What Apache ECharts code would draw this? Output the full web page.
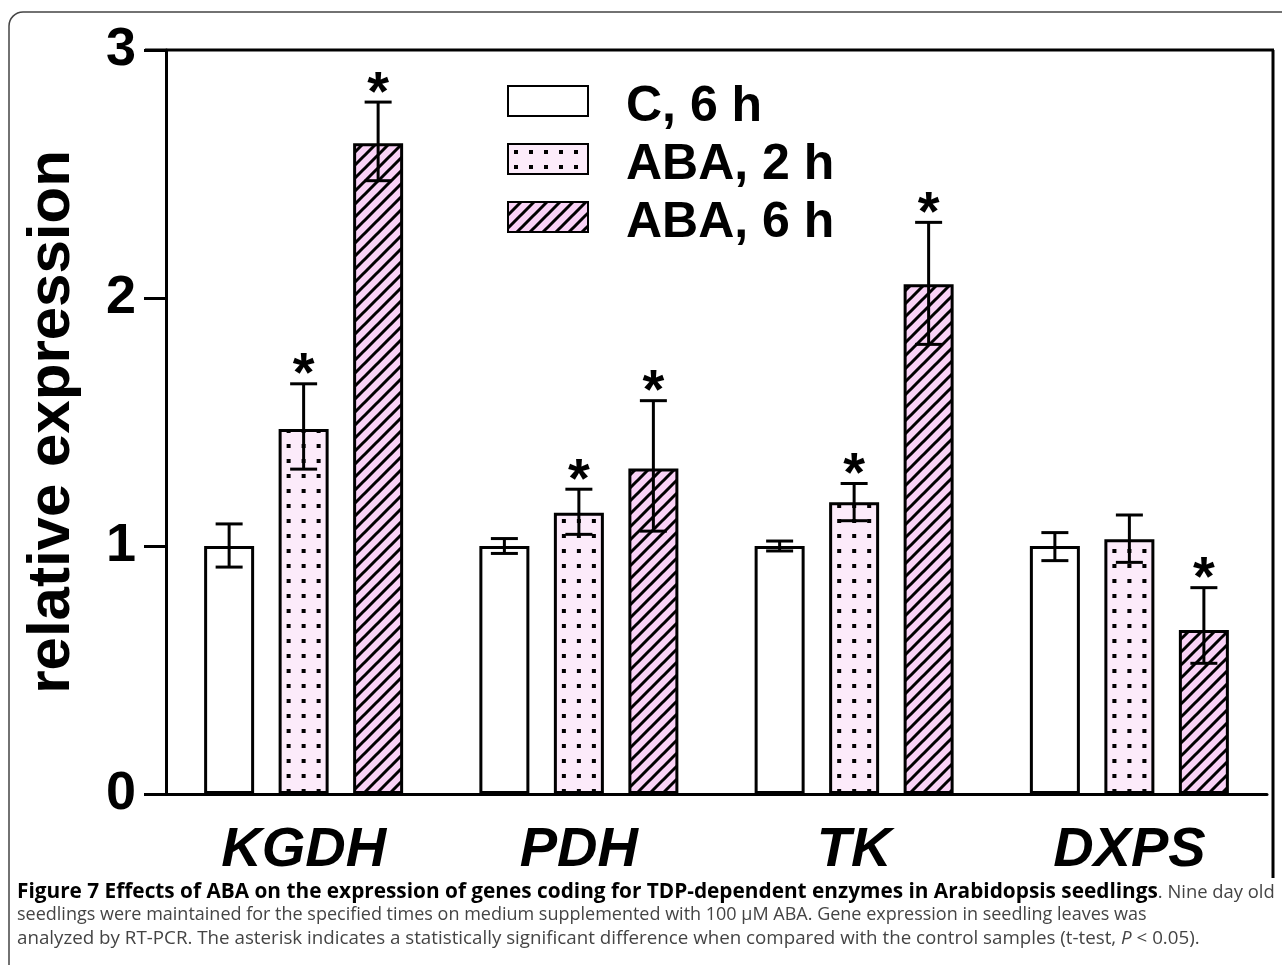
<!DOCTYPE html>
<html><head><meta charset="utf-8">
<script src="https://cdn.jsdelivr.net/npm/echarts@6/dist/echarts.min.js"></script>
<style>html,body{margin:0;padding:0;background:#fff}#c{width:1282px;height:965px}</style>
</head><body><div id="c"></div>
<script>
// ---- data ----
const categories = ['KGDH', 'PDH', 'TK', 'DXPS'];
const seriesNames = ['C, 6 h', 'ABA, 2 h', 'ABA, 6 h'];
const meanC    = [1.00, 1.00, 1.00, 1.00];
const meanABA2 = [1.472, 1.134, 1.176, 1.027];
const meanABA6 = [2.624, 1.313, 2.055, 0.661];
const upperC    = [1.089, 1.030, 1.020, 1.054];
const lowerC    = [0.915, 0.970, 0.980, 0.941];
const upperABA2 = [1.654, 1.229, 1.252, 1.125];
const lowerABA2 = [1.310, 1.047, 1.102, 0.934];
const upperABA6 = [2.790, 1.586, 2.305, 0.832];
const lowerABA6 = [2.473, 1.060, 1.813, 0.527];
const sigC    = [0, 0, 0, 0];
const sigABA2 = [1, 1, 1, 0];
const sigABA6 = [1, 1, 1, 1];
const yTicks = [0, 1, 2, 3];
const captionBold = 'Figure 7 Effects of ABA on the expression of genes coding for TDP-dependent enzymes in Arabidopsis seedlings';
const captionLine1Rest = '. Nine day old';
const captionLine2 = 'seedlings were maintained for the specified times on medium supplemented with 100 \u00b5M ABA. Gene expression in seedling leaves was';
const captionLine3a = 'analyzed by RT-PCR. The asterisk indicates a statistically significant difference when compared with the control samples (t-test, ';
const captionLine3P = 'P';
const captionLine3b = ' < 0.05).';

// ---- patterns ----
function hatchPattern() {
  const c = document.createElement('canvas'); c.width = 13; c.height = 13;
  const g = c.getContext('2d');
  g.fillStyle = '#f9d2f6'; g.fillRect(0, 0, 13, 13);
  g.strokeStyle = '#000'; g.lineWidth = 3; g.lineCap = 'butt';
  g.beginPath();
  g.moveTo(-2, 2); g.lineTo(2, -2);
  g.moveTo(-2, 15); g.lineTo(15, -2);
  g.moveTo(11, 15); g.lineTo(15, 11);
  g.stroke();
  return { image: c, repeat: 'repeat' };
}
const dotCanvas = (function () {
  const c = document.createElement('canvas'); c.width = 15; c.height = 15;
  const g = c.getContext('2d');
  g.fillStyle = '#fcebfa'; g.fillRect(0, 0, 15, 15);
  g.fillStyle = '#000'; g.fillRect(6, 6, 4, 4);
  return c;
})();
function dotPattern(ox, oy) { return { image: dotCanvas, repeat: 'repeat', x: ox || 0, y: oy || 0 }; }

const FONT = '"Liberation Sans", Arial, sans-serif';
const CAP = '"Open Sans", sans-serif';
const barW = 50, step = 74.5;

function errRenderer(offset) {
  return function (params, api) {
    const i = api.value(0);
    const lo = api.coord([i, api.value(1)]);
    const hi = api.coord([i, api.value(2)]);
    const x = lo[0] + offset;
    const hw = 13.5;
    const st = { stroke: '#000', lineWidth: 3 };
    const ch = [
      { type: 'line', shape: { x1: x, y1: lo[1], x2: x, y2: hi[1] }, style: st },
      { type: 'line', shape: { x1: x - hw, y1: hi[1], x2: x + hw, y2: hi[1] }, style: st },
      { type: 'line', shape: { x1: x - hw, y1: lo[1], x2: x + hw, y2: lo[1] }, style: st }
    ];
    if (api.value(3)) {
      ch.push({ type: 'text', style: { text: '*', x: x, y: hi[1] - 8, font: 'bold 56px ' + FONT, align: 'center', verticalAlign: 'middle', fill: '#000' } });
    }
    return { type: 'group', children: ch };
  };
}
function errData(lo, hi, sig) { return categories.map((c, i) => [i, lo[i], hi[i], sig[i]]); }

const chart = echarts.init(document.getElementById('c'), null, { renderer: 'canvas' });
const borderStyle = { borderColor: '#000', borderWidth: 3 };
const gap = ((step - barW) / barW * 100).toFixed(1) + '%';
chart.setOption({
  animation: false,
  backgroundColor: '#fff',
  textStyle: { fontFamily: FONT },
  grid: { left: 166, top: 50, right: 15, bottom: 171, containLabel: false },
  legend: {
    orient: 'vertical', left: 507, top: 82, padding: 0,
    itemWidth: 80, itemHeight: 30, itemGap: 8,
    icon: 'rect',
    data: seriesNames,
    formatter: n => '{t|' + n + '}',
    textStyle: { color: '#000', padding: [0, 0, 0, 33],
      rich: { t: { fontSize: 50, fontWeight: 'bold', color: '#000', fontFamily: FONT, padding: [12, 0, 0, 0] } } }
  },
  xAxis: {
    type: 'category', data: categories,
    axisLine: { lineStyle: { color: '#000', width: 3 } },
    axisTick: { alignWithLabel: true, length: 22, lineStyle: { color: '#000', width: 3 } },
    axisLabel: { fontSize: 56, fontWeight: 'bold', fontStyle: 'italic', color: '#000', margin: 29, fontFamily: FONT }
  },
  yAxis: {
    type: 'value', min: 0, max: 3, interval: 1,
    name: 'relative expression', nameLocation: 'middle', nameGap: 84, nameRotate: 90,
    nameTextStyle: { fontSize: 60, fontWeight: 'bold', color: '#000', fontFamily: FONT },
    splitLine: { show: false },
    axisLine: { show: true, lineStyle: { color: '#000', width: 3 } },
    axisTick: { show: true, length: 22, lineStyle: { color: '#000', width: 3 } },
    axisLabel: { fontSize: 54, fontWeight: 'bold', color: '#000', margin: 30, fontFamily: FONT,
      formatter: v => yTicks.indexOf(v) >= 0 ? String(v) : '' }
  },
  series: [
    { type: 'bar', name: seriesNames[0], data: meanC, barWidth: barW, barGap: gap,
      itemStyle: Object.assign({ color: '#ffffff' }, borderStyle) },
    { type: 'bar', name: seriesNames[1], data: meanABA2, barWidth: barW, barGap: gap,
      itemStyle: Object.assign({ color: dotPattern(0, 0) }, borderStyle) },
    { type: 'bar', name: seriesNames[2], data: meanABA6, barWidth: barW, barGap: gap,
      itemStyle: Object.assign({ color: hatchPattern() }, borderStyle) },
    { type: 'custom', renderItem: errRenderer(-step), data: errData(lowerC, upperC, sigC), encode: { x: 0, y: [1, 2] }, z: 5 },
    { type: 'custom', renderItem: errRenderer(0), data: errData(lowerABA2, upperABA2, sigABA2), encode: { x: 0, y: [1, 2] }, z: 5 },
    { type: 'custom', renderItem: errRenderer(step), data: errData(lowerABA6, upperABA6, sigABA6), encode: { x: 0, y: [1, 2] }, z: 5 }
  ],
  graphic: [
    { type: 'rect', shape: { x: 9, y: 12, width: 1290, height: 1000, r: 14 }, style: { fill: 'none', stroke: '#444', lineWidth: 1.5 }, silent: true },
    { type: 'line', shape: { x1: 145, y1: 50, x2: 1274, y2: 50 }, style: { stroke: '#000', lineWidth: 3 }, silent: true },
    { type: 'line', shape: { x1: 1273, y1: 50, x2: 1273, y2: 878 }, style: { stroke: '#000', lineWidth: 3 }, silent: true },
    { type: 'text', left: 17, top: 882, silent: true,
      style: { text: '{b|' + captionBold + '}{n|' + captionLine1Rest + '}',
        rich: { b: { fontFamily: CAP, fontSize: 20.8, fontWeight: 'bold', fill: '#000', lineHeight: 22 },
                n: { fontFamily: CAP, fontSize: 18.4, fill: '#444', lineHeight: 22 } } } },
    { type: 'text', left: 17, top: 906, silent: true,
      style: { text: captionLine2, font: '18px ' + CAP, fill: '#444' } },
    { type: 'text', left: 17, top: 929, silent: true,
      style: { text: '{n|' + captionLine3a + '}{i|' + captionLine3P + '}{n|' + captionLine3b + '}',
        rich: { n: { fontFamily: CAP, fontSize: 18.75, fill: '#444', lineHeight: 22 },
                i: { fontFamily: CAP, fontSize: 18.75, fontStyle: 'italic', fill: '#444', lineHeight: 22 } } } }
  ]
});
// align dot pattern to each bar (dot column centred on the bar), using the axis scale
const dotData = meanABA2.map((v, i) => {
  const px = chart.convertToPixel({ xAxisIndex: 0, yAxisIndex: 0 }, [i, v]);
  return { value: v, itemStyle: { color: dotPattern(px[0] - 8, 3) } };
});
chart.setOption({ series: [{}, { data: dotData }] });
</script>
</body></html>
